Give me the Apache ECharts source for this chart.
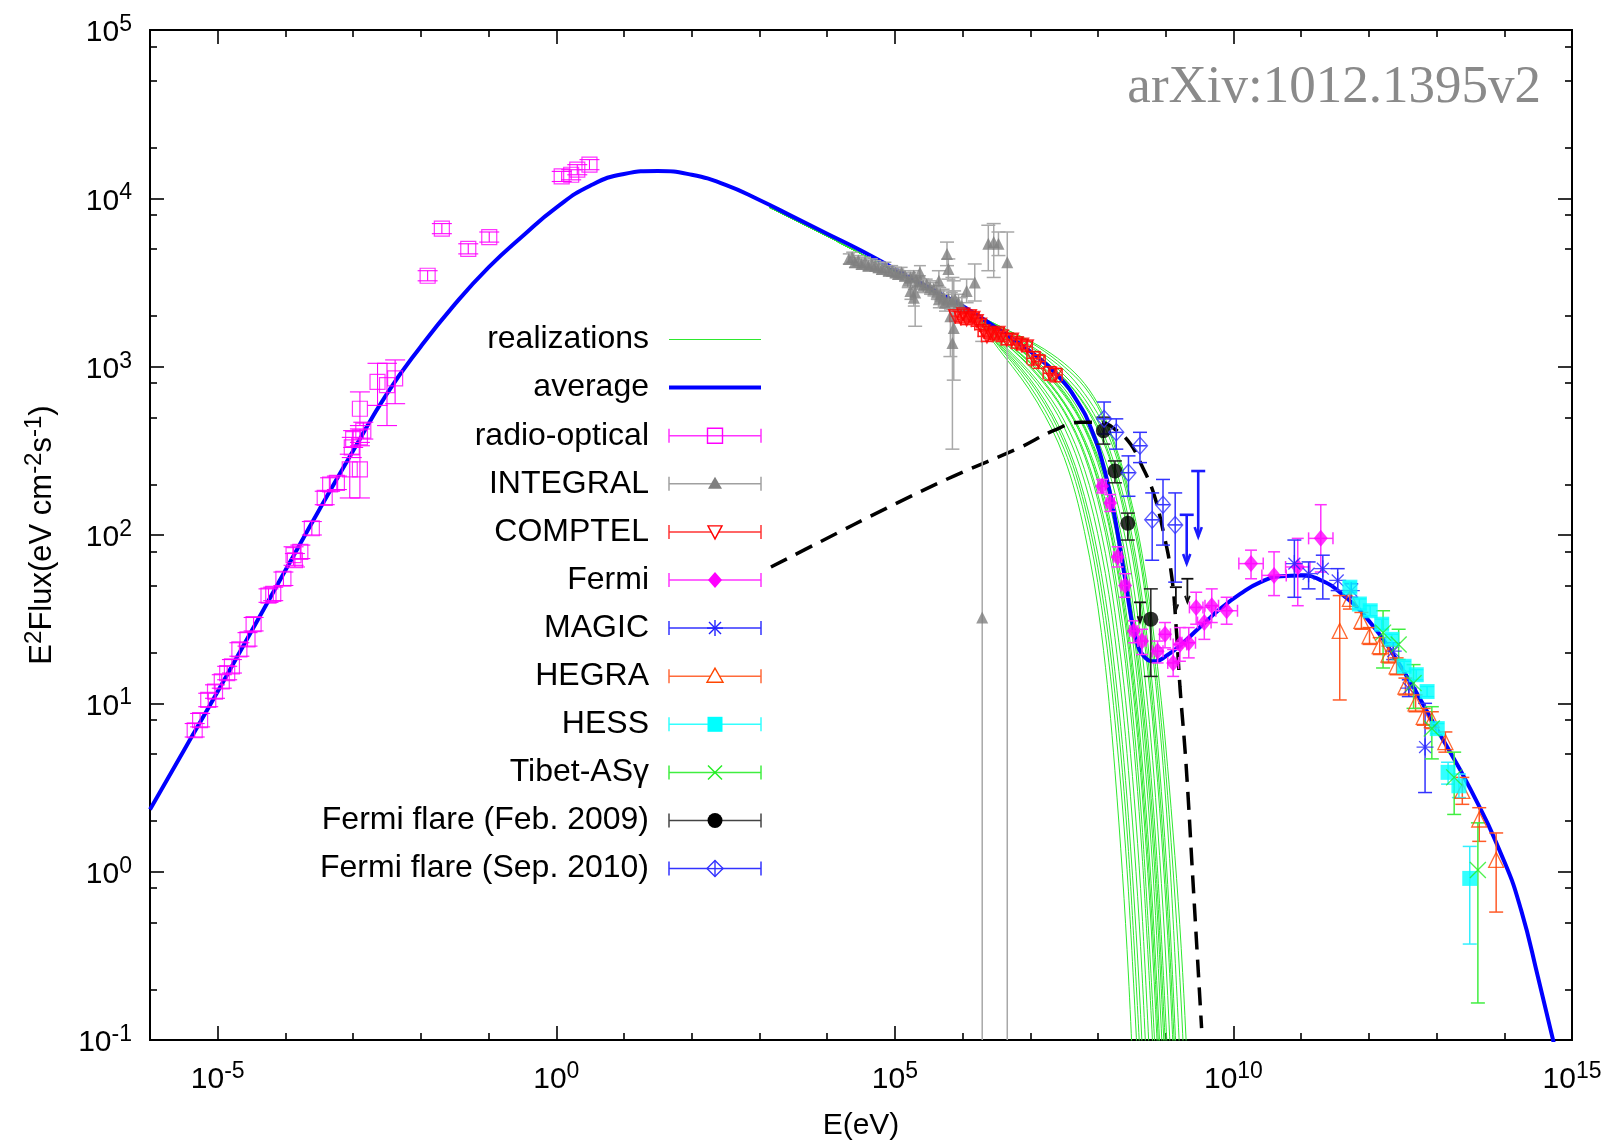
<!DOCTYPE html>
<html>
<head>
<meta charset="utf-8">
<title>SED</title>
<script src="https://cdn.jsdelivr.net/npm/echarts@6/dist/echarts.min.js"></script>
<style>
  html, body { margin: 0; padding: 0; background: #fff; }
  #main { width: 1608px; height: 1140px; }
</style>
</head>
<body>
<div id="main"></div>
<script>
// all values are log10: x = log10(E / eV), y = log10(E^2 Flux)

// average model curve
const avgE = [-6, -5.5, -5, -4.5, -4, -3.5, -3, -2.5, -2, -1.5, -1, -0.5, 0, 0.5, 1, 1.5, 2, 2.5, 3, 3.5, 4, 4.5, 5, 5.5, 6, 6.5, 7, 7.4, 7.7, 7.9, 8.1, 8.25, 8.4, 8.55, 8.7, 8.85, 9.0, 9.2, 9.5, 9.8, 10.1, 10.4, 10.7, 11.0, 11.3, 11.6, 12.0, 12.5, 13.0, 13.5, 14.0, 14.25, 14.5, 14.75];
const avgF = [0.37, 0.72, 1.07, 1.43, 1.79, 2.15, 2.50, 2.84, 3.12, 3.37, 3.59, 3.775, 3.945, 4.075, 4.145, 4.163, 4.14, 4.08, 3.99, 3.89, 3.79, 3.69, 3.58, 3.47, 3.36, 3.23, 3.09, 2.95, 2.79, 2.63, 2.38, 2.10, 1.74, 1.40, 1.27, 1.25, 1.28, 1.34, 1.45, 1.56, 1.65, 1.72, 1.755, 1.76, 1.73, 1.65, 1.49, 1.20, 0.85, 0.49, 0.06, -0.23, -0.63, -1.05];

// realizations (shared x grid, common head then individual tails)
const realE = [3.15, 4.0, 5.0, 6.0, 6.6, 7.1, 7.5, 7.8, 8.05, 8.25, 8.45, 8.65, 8.85, 9.05, 9.25, 9.45];
const realHead = [3.945, 3.775, 3.565, 3.35];
const realTails = [
  [3.07, 2.79, 2.46, 2.02, 1.42, 0.60, -0.62, -2.50],
  [3.09, 2.82, 2.51, 2.12, 1.58, 0.90, -0.12, -1.69],
  [3.10, 2.85, 2.55, 2.18, 1.68, 1.06, 0.12, -1.33],
  [3.11, 2.87, 2.58, 2.23, 1.77, 1.19, 0.32, -1.02, -3.11],
  [3.12, 2.90, 2.64, 2.32, 1.90, 1.39, 0.60, -0.60, -2.46],
  [3.13, 2.92, 2.68, 2.39, 2.01, 1.54, 0.84, -0.24, -1.90],
  [3.15, 2.95, 2.73, 2.47, 2.12, 1.70, 1.08, 0.11, -1.37],
  [3.15, 2.96, 2.74, 2.49, 2.16, 1.77, 1.18, 0.28, -1.12],
  [3.16, 2.98, 2.78, 2.55, 2.24, 1.87, 1.32, 0.48, -0.82, -2.84],
  [3.16, 2.98, 2.78, 2.55, 2.26, 1.90, 1.38, 0.57, -0.67, -2.60],
  [3.16, 2.99, 2.79, 2.57, 2.29, 1.95, 1.44, 0.67, -0.52, -2.37],
  [3.18, 3.01, 2.83, 2.63, 2.36, 2.04, 1.57, 0.85, -0.26, -1.99],
  [3.18, 3.02, 2.84, 2.64, 2.39, 2.09, 1.65, 0.97, -0.07, -1.68],
  [3.18, 3.02, 2.85, 2.65, 2.41, 2.12, 1.70, 1.05, 0.06, -1.50],
  [3.19, 3.03, 2.87, 2.68, 2.45, 2.17, 1.77, 1.15, 0.20, -1.28],
  [3.19, 3.05, 2.89, 2.72, 2.51, 2.25, 1.88, 1.31, 0.44, -0.91, -3.02],
  [3.20, 3.07, 2.93, 2.78, 2.60, 2.37, 2.05, 1.56, 0.79, -0.39, -2.20],
  [3.21, 3.07, 2.93, 2.77, 2.58, 2.35, 2.00, 1.49, 0.69, -0.54, -2.46],
  [3.21, 3.09, 2.95, 2.81, 2.63, 2.41, 2.10, 1.63, 0.90, -0.22, -1.98],
  [3.22, 3.10, 2.98, 2.84, 2.68, 2.49, 2.20, 1.78, 1.13, 0.13, -1.45],
  [3.23, 3.12, 3.00, 2.88, 2.72, 2.52, 2.24, 1.83, 1.22, 0.34, -0.96, -3.16],
  [3.23, 3.13, 3.02, 2.90, 2.74, 2.54, 2.27, 1.89, 1.32, 0.52, -0.60, -2.37]
];

// dashed model
const dashE = [3.17, 3.90, 4.88, 5.87, 6.85, 7.34, 7.74, 8.03, 8.28, 8.48, 8.65, 8.82, 8.97, 9.09, 9.16, 9.21, 9.30, 9.40, 9.53];
const dashF = [1.81, 1.96, 2.16, 2.35, 2.52, 2.62, 2.67, 2.67, 2.62, 2.54, 2.41, 2.25, 2.01, 1.75, 1.42, 1.10, 0.64, -0.04, -0.93];

// radio-optical
const radioE = [-5.34, -5.26, -5.14, -5.04, -4.94, -4.86, -4.79, -4.68, -4.56, -4.47, -4.25, -4.18, -4.03, -3.88, -3.86, -3.78, -3.61, -3.42, -3.34, -3.24, -3.05, -2.90, -3.02, -3.00, -2.90, -2.85, -2.90, -2.64, -2.50, -2.38, -1.90, -1.69, -1.30, -0.99, 0.08, 0.22, 0.31, 0.49];
const radioF = [0.84, 0.90, 1.02, 1.07, 1.13, 1.18, 1.22, 1.32, 1.38, 1.47, 1.64, 1.65, 1.74, 1.88, 1.85, 1.90, 2.04, 2.22, 2.30, 2.31, 2.39, 2.39, 2.52, 2.57, 2.58, 2.62, 2.75, 2.91, 2.89, 2.93, 3.54, 3.82, 3.70, 3.77, 4.13, 4.14, 4.17, 4.20];
const radioLo = [0.80, 0.86, 0.98, 1.03, 1.09, 1.14, 1.18, 1.28, 1.34, 1.43, 1.60, 1.61, 1.70, 1.82, 1.81, 1.86, 2.00, 2.18, 2.26, 2.27, 2.22, 2.22, 2.46, 2.52, 2.53, 2.57, 2.65, 2.77, 2.65, 2.78, 3.51, 3.79, 3.67, 3.74, 4.10, 4.11, 4.14, 4.17];
const radioHi = [0.88, 0.94, 1.06, 1.11, 1.17, 1.22, 1.26, 1.36, 1.42, 1.51, 1.68, 1.69, 1.78, 1.93, 1.89, 1.94, 2.08, 2.26, 2.34, 2.35, 2.48, 2.55, 2.58, 2.62, 2.63, 2.67, 2.85, 3.02, 3.02, 3.04, 3.57, 3.85, 3.73, 3.80, 4.16, 4.17, 4.20, 4.23];

// INTEGRAL: dense band + scattered points
const integralE = [4.32, 4.37, 4.41, 4.46, 4.51, 4.56, 4.61, 4.66, 4.71, 4.76, 4.81, 4.86, 4.91, 4.96, 5.01, 5.05, 5.10, 5.15, 5.19, 5.23, 5.28, 5.33, 5.37, 5.42, 5.47, 5.52, 5.57, 5.62, 5.65, 5.67, 5.72, 5.74, 5.79, 5.84, 5.89, 5.94, 5.99, 5.37, 5.23, 5.28];
const integralF = [3.64, 3.65, 3.62, 3.63, 3.61, 3.62, 3.60, 3.61, 3.60, 3.59, 3.58, 3.59, 3.57, 3.57, 3.56, 3.55, 3.56, 3.54, 3.51, 3.53, 3.54, 3.50, 3.51, 3.48, 3.49, 3.47, 3.46, 3.44, 3.40, 3.43, 3.41, 3.38, 3.40, 3.39, 3.40, 3.38, 3.36, 3.56, 3.45, 3.41];
const integralErr = [0.03, 0.03, 0.03, 0.03, 0.03, 0.03, 0.03, 0.03, 0.03, 0.03, 0.03, 0.03, 0.03, 0.03, 0.03, 0.03, 0.03, 0.03, 0.04, 0.03, 0.03, 0.04, 0.03, 0.04, 0.03, 0.04, 0.04, 0.04, 0.05, 0.04, 0.05, 0.05, 0.05, 0.05, 0.05, 0.05, 0.05, 0.04, 0.05, 0.05];
const integralOutE = [5.77, 5.79, 6.18, 6.06, 6.38, 6.46, 6.53, 6.66, 6.29, 5.85, 5.82, 5.87, 5.30, 5.65];
const integralOutF = [3.67, 3.58, 3.50, 3.45, 3.73, 3.74, 3.73, 3.62, 1.51, 3.14, 3.30, 3.23, 3.44, 3.51];
const integralOutLo = [3.60, 3.52, 3.39, 3.38, 3.57, 3.53, 3.66, -2, -2, 2.51, 3.06, 2.92, 3.24, 3.40];
const integralOutHi = [3.74, 3.64, 3.61, 3.52, 3.84, 3.85, 3.80, 3.80, 3.15, 3.53, 3.40, 3.51, 3.53, 3.57];

// COMPTEL
const comptelE = [5.89, 5.97, 6.01, 6.06, 6.11, 6.16, 6.21, 6.26, 6.31, 6.36, 6.41, 6.46, 6.53, 6.58, 6.65, 6.73, 6.80, 6.88, 6.95, 7.05, 7.12, 7.29, 7.37];
const comptelF = [3.30, 3.29, 3.31, 3.28, 3.30, 3.29, 3.27, 3.25, 3.21, 3.18, 3.20, 3.19, 3.20, 3.18, 3.16, 3.16, 3.14, 3.13, 3.12, 3.05, 3.03, 2.96, 2.95];
const comptelErr = [0.03, 0.03, 0.03, 0.03, 0.03, 0.03, 0.03, 0.03, 0.03, 0.03, 0.03, 0.03, 0.03, 0.03, 0.03, 0.03, 0.03, 0.03, 0.03, 0.04, 0.04, 0.04, 0.04];
const comptelDE = [0.08, 0.08, 0.08, 0.08, 0.08, 0.08, 0.08, 0.08, 0.08, 0.08, 0.08, 0.08, 0.08, 0.08, 0.08, 0.08, 0.08, 0.08, 0.08, 0.1, 0.1, 0.1, 0.1];

// Fermi
const fermiE = [8.06, 8.18, 8.29, 8.40, 8.53, 8.65, 8.88, 8.99, 9.11, 9.21, 9.34, 9.45, 9.57, 9.68, 9.90, 10.26, 10.60, 10.95, 11.29];
const fermiF = [2.29, 2.19, 1.87, 1.70, 1.43, 1.37, 1.31, 1.41, 1.24, 1.35, 1.36, 1.57, 1.48, 1.58, 1.55, 1.83, 1.76, 1.81, 1.98];
const fermiLo = [2.25, 2.14, 1.81, 1.63, 1.36, 1.29, 1.24, 1.33, 1.16, 1.25, 1.27, 1.47, 1.38, 1.48, 1.47, 1.74, 1.64, 1.58, 1.78];
const fermiHi = [2.33, 2.24, 1.93, 1.77, 1.49, 1.44, 1.37, 1.48, 1.32, 1.45, 1.45, 1.66, 1.57, 1.68, 1.63, 1.91, 1.90, 1.98, 2.18];
const fermiDE = [0.06, 0.06, 0.06, 0.06, 0.06, 0.06, 0.08, 0.08, 0.08, 0.1, 0.1, 0.1, 0.1, 0.1, 0.16, 0.18, 0.18, 0.18, 0.18];

// MAGIC
const magicE = [10.90, 11.11, 11.32, 11.54, 11.74, 12.36, 12.59, 12.83];
const magicF = [1.83, 1.77, 1.80, 1.73, 1.67, 1.31, 1.09, 0.74];
const magicLo = [1.63, 1.68, 1.62, 1.67, 1.63, 1.26, 1.04, 0.47];
const magicHi = [1.97, 1.84, 1.88, 1.80, 1.71, 1.36, 1.14, 1.00];

// HEGRA
const hegraE = [11.57, 11.72, 11.89, 12.01, 12.16, 12.29, 12.41, 12.54, 12.69, 12.81, 12.93, 13.13, 13.38, 13.63, 13.88];
const hegraF = [1.43, 1.62, 1.49, 1.40, 1.34, 1.29, 1.22, 1.10, 1.00, 0.92, 0.90, 0.77, 0.48, 0.31, 0.07];
const hegraLo = [1.02, 1.56, 1.44, 1.35, 1.29, 1.24, 1.17, 1.05, 0.95, 0.87, 0.85, 0.71, 0.40, 0.18, -0.24];
const hegraHi = [1.64, 1.67, 1.54, 1.45, 1.39, 1.34, 1.27, 1.15, 1.05, 0.97, 0.95, 0.83, 0.56, 0.38, 0.23];

// HESS
const hessE = [11.72, 11.86, 12.02, 12.19, 12.34, 12.52, 12.70, 12.86, 13.01, 13.17, 13.33, 13.49];
const hessF = [1.69, 1.59, 1.55, 1.47, 1.38, 1.22, 1.17, 1.07, 0.85, 0.59, 0.51, -0.04];
const hessLo = [1.66, 1.56, 1.52, 1.44, 1.35, 1.19, 1.14, 1.04, 0.82, 0.52, 0.44, -0.43];
const hessHi = [1.72, 1.62, 1.58, 1.50, 1.41, 1.25, 1.20, 1.10, 0.88, 0.65, 0.58, 0.15];

// Tibet-ASgamma
const tibetE = [12.21, 12.44, 12.66, 12.93, 13.26, 13.61];
const tibetF = [1.42, 1.35, 1.12, 0.85, 0.56, 0.01];
const tibetLo = [1.21, 1.26, 0.97, 0.67, 0.34, -0.78];
const tibetHi = [1.55, 1.44, 1.23, 0.98, 0.71, 0.29];

// Fermi flare Feb. 2009
const febE = [8.08, 8.25, 8.44, 8.78];
const febF = [2.62, 2.38, 2.07, 1.50];
const febLo = [2.54, 2.31, 1.97, 1.16];
const febHi = [2.70, 2.44, 2.13, 1.68];
const febUlE = [8.62, 9.15, 9.32];
const febUlTop = [1.60, 1.69, 1.74];
const febUlTip = [1.48, 1.55, 1.60];

// Fermi flare Sep. 2010
const sepE = [8.09, 8.27, 8.45, 8.62, 8.80, 8.96, 9.14];
const sepF = [2.69, 2.61, 2.37, 2.53, 2.09, 2.18, 2.06];
const sepLo = [2.60, 2.51, 2.23, 2.43, 1.85, 1.94, 1.72];
const sepHi = [2.79, 2.69, 2.47, 2.61, 2.25, 2.33, 2.25];
const sepUlE = [9.31, 9.48];
const sepUlTop = [2.12, 2.38];
const sepUlTip = [1.83, 1.99];

// ticks
const xMajor = [-5, 0, 5, 10, 15];
const xMinor = [-4, -3, -2, -1, 1, 2, 3, 4, 6, 7, 8, 9, 11, 12, 13, 14];
const yMajor = [-1, 0, 1, 2, 3, 4, 5];
const yMinorSteps = [0.30103, 0.69897, 0.90309];

const FONT = 'Liberation Sans, Arial, Helvetica, sans-serif';
const GREEN = '#2ee82e';

const yMinor = [];
for (let d = -1; d < 5; d++) yMinorSteps.forEach(s => yMinor.push(d + s));

const chart = echarts.init(document.getElementById('main'), null, { renderer: 'canvas' });

const powRich = {
  b: { fontSize: 30, fontFamily: FONT, color: '#000', lineHeight: 40, verticalAlign: 'middle' },
  s: { fontSize: 23, fontFamily: FONT, color: '#000', lineHeight: 10, verticalAlign: 'top' }
};
const powFmt = v => '{b|10}{s|' + Math.round(v) + '}';

function xAxisDef(pos, ticks, len, withLabel) {
  return {
    type: 'value', position: pos, min: -6, max: 15, interval: 1,
    axisLine: { show: true, onZero: false, lineStyle: { color: '#000', width: 2 } },
    axisTick: { show: true, inside: true, length: len, customValues: ticks, lineStyle: { color: '#000', width: 1.6 } },
    axisLabel: withLabel ? { show: true, customValues: xMajor, margin: 20, formatter: powFmt, rich: powRich } : { show: false },
    splitLine: { show: false }
  };
}
function yAxisDef(pos, ticks, len, withLabel) {
  return {
    type: 'value', position: pos, min: -1, max: 5, interval: 1,
    axisLine: { show: true, onZero: false, lineStyle: { color: '#000', width: 2 } },
    axisTick: { show: true, inside: true, length: len, customValues: ticks, lineStyle: { color: '#000', width: 1.6 } },
    axisLabel: withLabel ? { show: true, customValues: yMajor, margin: 18, padding: [6, 0, 0, 0], formatter: powFmt, rich: powRich } : { show: false },
    splitLine: { show: false }
  };
}

const xAxes = [
  xAxisDef('bottom', xMajor, 14, true),
  xAxisDef('bottom', xMinor, 7, false),
  xAxisDef('top', xMajor, 14, false),
  xAxisDef('top', xMinor, 7, false)
];
xAxes[0].name = 'E(eV)';
xAxes[0].nameLocation = 'middle';
xAxes[0].nameGap = 71;
xAxes[0].nameTextStyle = { fontSize: 30, fontFamily: FONT, color: '#000' };

const yAxes = [
  yAxisDef('left', yMajor, 14, true),
  yAxisDef('left', yMinor, 7, false),
  yAxisDef('right', yMajor, 14, false),
  yAxisDef('right', yMinor, 7, false)
];
yAxes[0].name = '{b|E}{s|2}{b|Flux(eV cm}{s|-2}{b|s}{s|-1}{b|)}';
yAxes[0].nameLocation = 'middle';
yAxes[0].nameRotate = 90;
yAxes[0].nameGap = 88;
yAxes[0].nameTextStyle = {
  rich: {
    b: { fontSize: 31, fontFamily: FONT, color: '#000', lineHeight: 40, verticalAlign: 'middle' },
    s: { fontSize: 24, fontFamily: FONT, color: '#000', lineHeight: 12, verticalAlign: 'top' }
  }
};

// error bars: [x, y, ylo, yhi, xlo, xhi]
function errBars(opts) {
  return function (params, api) {
    const x = api.value(0), y = api.value(1);
    const ylo = api.value(2), yhi = api.value(3), xlo = api.value(4), xhi = api.value(5);
    const st = { stroke: opts.color, lineWidth: opts.width || 1.5, fill: null };
    const kids = [];
    const cap = opts.cap;
    if (isFinite(ylo) && isFinite(yhi)) {
      const a = api.coord([x, ylo]), b = api.coord([x, yhi]);
      kids.push({ type: 'line', shape: { x1: a[0], y1: a[1], x2: b[0], y2: b[1] }, style: st });
      if (cap) {
        kids.push({ type: 'line', shape: { x1: a[0] - cap, y1: a[1], x2: a[0] + cap, y2: a[1] }, style: st });
        kids.push({ type: 'line', shape: { x1: b[0] - cap, y1: b[1], x2: b[0] + cap, y2: b[1] }, style: st });
      }
    }
    if (isFinite(xlo) && isFinite(xhi)) {
      const a = api.coord([xlo, y]), b = api.coord([xhi, y]);
      kids.push({ type: 'line', shape: { x1: a[0], y1: a[1], x2: b[0], y2: b[1] }, style: st });
      const xcap = opts.xcap === undefined ? cap : opts.xcap;
      if (xcap) {
        kids.push({ type: 'line', shape: { x1: a[0], y1: a[1] - xcap, x2: a[0], y2: a[1] + xcap }, style: st });
        kids.push({ type: 'line', shape: { x1: b[0], y1: b[1] - xcap, x2: b[0], y2: b[1] + xcap }, style: st });
      }
    }
    return { type: 'group', children: kids };
  };
}
// upper limits: [x, top, tip]
function upperLimits(opts) {
  return function (params, api) {
    const x = api.value(0);
    const a = api.coord([x, api.value(1)]), b = api.coord([x, api.value(2)]);
    const st = { stroke: opts.color, lineWidth: opts.width, fill: null };
    const h = opts.head;
    return {
      type: 'group', children: [
        { type: 'line', shape: { x1: a[0] - opts.cap, y1: a[1], x2: a[0] + opts.cap, y2: a[1] }, style: st },
        { type: 'line', shape: { x1: a[0], y1: a[1], x2: b[0], y2: b[1] }, style: st },
        { type: 'polyline', shape: { points: [[b[0] - h * 0.6, b[1] - h * 1.6], [b[0], b[1]], [b[0] + h * 0.6, b[1] - h * 1.6]] }, style: st }
      ]
    };
  };
}

const nanArr = n => new Array(n).fill(NaN);
function rows(E, F, lo, hi, elo, ehi) {
  return E.map((e, i) => [e, F[i], lo[i], hi[i], elo[i], ehi[i]]);
}
function errSeries(data, opts) {
  return {
    type: 'custom', renderItem: errBars(opts), data: data, clip: true, silent: true,
    encode: { x: 0, y: 1 }, xAxisIndex: 0, yAxisIndex: 0, z: 3
  };
}
function markSeries(E, F, sym) {
  return Object.assign({
    type: 'scatter', data: E.map((e, i) => [e, F[i]]), silent: true, z: 4,
    xAxisIndex: 0, yAxisIndex: 0, emphasis: { disabled: true }
  }, sym);
}
function hollow(color, w) {
  return { color: 'rgba(0,0,0,0)', borderColor: color, borderWidth: w || 1.3 };
}

const series = [];
realTails.forEach(tail => {
  const ys = realHead.concat(tail);
  series.push({
    type: 'line', data: ys.map((y, i) => [realE[i], y]), showSymbol: false, smooth: 0.35,
    lineStyle: { color: GREEN, width: 1 }, silent: true, z: 1
  });
});
series.push({
  type: 'line', data: avgE.map((e, i) => [e, avgF[i]]), showSymbol: false, smooth: 0.5,
  lineStyle: { color: '#0000ff', width: 4 }, silent: true, z: 2
});
series.push({
  type: 'line', data: dashE.map((e, i) => [e, dashF[i]]), showSymbol: false, smooth: 0.4,
  lineStyle: { color: '#000', width: 3.5, type: [18, 10] }, silent: true, z: 2
});

// error bars
series.push(errSeries(rows(radioE, radioF, radioLo, radioHi, nanArr(radioE.length), nanArr(radioE.length)), { color: '#ff00ff', width: 1.1, cap: 10 }));
series.push(errSeries(rows(integralE, integralF, integralF.map((f, i) => f - integralErr[i]), integralF.map((f, i) => f + integralErr[i]), nanArr(integralE.length), nanArr(integralE.length)), { color: '#a8a8a8', width: 1.5, cap: 6 }));
series.push(errSeries(rows(integralOutE, integralOutF, integralOutLo, integralOutHi, nanArr(integralOutE.length), nanArr(integralOutE.length)), { color: '#a8a8a8', width: 1.5, cap: 7 }));
series.push(errSeries(rows(comptelE, comptelF, comptelF.map((f, i) => f - comptelErr[i]), comptelF.map((f, i) => f + comptelErr[i]), comptelE.map((e, i) => e - comptelDE[i]), comptelE.map((e, i) => e + comptelDE[i])), { color: '#ff2020', width: 1.5, cap: 6 }));
series.push(errSeries(rows(fermiE, fermiF, fermiLo, fermiHi, fermiE.map((e, i) => e - fermiDE[i]), fermiE.map((e, i) => e + fermiDE[i])), { color: '#ff33ff', width: 1.5, cap: 6 }));
series.push(errSeries(rows(magicE, magicF, magicLo, magicHi, nanArr(magicE.length), nanArr(magicE.length)), { color: '#3333ff', width: 1.5, cap: 7 }));
series.push(errSeries(rows(hegraE, hegraF, hegraLo, hegraHi, nanArr(hegraE.length), nanArr(hegraE.length)), { color: '#ff5a28', width: 1.5, cap: 7 }));
series.push(errSeries(rows(hessE, hessF, hessLo, hessHi, nanArr(hessE.length), nanArr(hessE.length)), { color: '#33f0ff', width: 1.5, cap: 7 }));
series.push(errSeries(rows(tibetE, tibetF, tibetLo, tibetHi, nanArr(tibetE.length), nanArr(tibetE.length)), { color: '#40ee40', width: 1.5, cap: 7 }));
series.push(errSeries(rows(febE, febF, febLo, febHi, nanArr(febE.length), nanArr(febE.length)), { color: '#222', width: 1.5, cap: 7 }));
series.push(errSeries(rows(sepE, sepF, sepLo, sepHi, sepE.map(e => e - 0.1), sepE.map(e => e + 0.1)), { color: '#3333ff', width: 1.5, cap: 7, xcap: 0 }));
series.push({
  type: 'custom', renderItem: upperLimits({ color: '#111', width: 1.8, cap: 6, head: 4 }), clip: true, silent: true,
  data: febUlE.map((e, i) => [e, febUlTop[i], febUlTip[i]]), encode: { x: 0, y: 1 }, z: 3
});
series.push({
  type: 'custom', renderItem: upperLimits({ color: '#1a1aff', width: 2.6, cap: 7, head: 6 }), clip: true, silent: true,
  data: sepUlE.map((e, i) => [e, sepUlTop[i], sepUlTip[i]]), encode: { x: 0, y: 1 }, z: 3
});

// markers
series.push(markSeries(radioE, radioF, { symbol: 'rect', symbolSize: 15, itemStyle: hollow('#ff00ff', 1.2) }));
series.push(markSeries(integralE, integralF, { symbol: 'triangle', symbolSize: 12, itemStyle: { color: '#808080' } }));
series.push(markSeries(integralOutE, integralOutF, { symbol: 'triangle', symbolSize: 12, itemStyle: { color: '#808080' } }));
series.push(markSeries(comptelE, comptelF, { symbol: 'triangle', symbolRotate: 180, symbolSize: 13, itemStyle: hollow('#ff0000', 1.4) }));
series.push(markSeries(fermiE, fermiF, { symbol: 'diamond', symbolSize: [14, 17], itemStyle: { color: '#ff00ff' } }));
series.push(markSeries(magicE, magicF, { symbol: 'path://M0,5L10,5M5,0L5,10M1.5,1.5L8.5,8.5M8.5,1.5L1.5,8.5', symbolSize: 17, itemStyle: hollow('#2222ff', 1.3) }));
series.push(markSeries(hegraE, hegraF, { symbol: 'triangle', symbolSize: 15, itemStyle: hollow('#ff4500', 1.3) }));
series.push(markSeries(hessE, hessF, { symbol: 'rect', symbolSize: 15, itemStyle: { color: '#00ffff' } }));
series.push(markSeries(tibetE, tibetF, { symbol: 'path://M0,0L10,10M10,0L0,10', symbolSize: 16, itemStyle: hollow('#22ee22', 1.3) }));
series.push(markSeries(febE, febF, { symbol: 'circle', symbolSize: 15, itemStyle: { color: '#000' } }));
series.push(markSeries(sepE, sepF, { symbol: 'diamond', symbolSize: [15, 17], itemStyle: hollow('#3333ff', 1.3) }));

// legend drawn as graphics (icons carry error bars like the original key)
const legendRows = [
  { name: 'realizations', color: GREEN, kind: 'line', width: 1.2 },
  { name: 'average', color: '#0000ff', kind: 'line', width: 4 },
  { name: 'radio-optical', color: '#ff33ff', mcolor: '#ff00ff', kind: 'square' },
  { name: 'INTEGRAL', color: '#a0a0a0', mcolor: '#808080', kind: 'tri' },
  { name: 'COMPTEL', color: '#ff3333', mcolor: '#ff0000', kind: 'dtri' },
  { name: 'Fermi', color: '#ff33ff', mcolor: '#ff00ff', kind: 'diamond' },
  { name: 'MAGIC', color: '#3333ff', mcolor: '#2222ff', kind: 'star' },
  { name: 'HEGRA', color: '#ff6a3a', mcolor: '#ff4500', kind: 'otri' },
  { name: 'HESS', color: '#33ffff', mcolor: '#00ffff', kind: 'fsq' },
  { name: 'Tibet-ASγ', color: '#40ee40', mcolor: '#22ee22', kind: 'x' },
  { name: 'Fermi flare (Feb. 2009)', color: '#444', mcolor: '#000', kind: 'circle' },
  { name: 'Fermi flare (Sep. 2010)', color: '#3333ff', mcolor: '#3333ff', kind: 'odiamond' }
];

function legendElements() {
  const els = [];
  const x0 = 669, x1 = 761, xm = 715;
  legendRows.forEach((r, i) => {
    const y = 339.5 + i * 48.1;
    els.push({
      type: 'text', x: 649, y: y, z: 100,
      style: { text: r.name, fontSize: 32, fontFamily: FONT, fill: '#000', align: 'right', verticalAlign: 'middle' }
    });
    const st = { stroke: r.color, lineWidth: r.width || 1.5, fill: null };
    els.push({ type: 'line', z: 100, shape: { x1: x0, y1: y, x2: x1, y2: y }, style: st });
    if (r.kind === 'line') return;
    els.push({ type: 'line', z: 100, shape: { x1: x0, y1: y - 7, x2: x0, y2: y + 7 }, style: st });
    els.push({ type: 'line', z: 100, shape: { x1: x1, y1: y - 7, x2: x1, y2: y + 7 }, style: st });
    const mc = r.mcolor;
    const stroke = { stroke: mc, lineWidth: 1.4, fill: null };
    const fill = { fill: mc, stroke: null };
    switch (r.kind) {
      case 'square':
        els.push({ type: 'rect', z: 101, shape: { x: xm - 7.5, y: y - 7.5, width: 15, height: 15 }, style: stroke }); break;
      case 'tri':
        els.push({ type: 'polygon', z: 101, shape: { points: [[xm, y - 7], [xm - 7, y + 5], [xm + 7, y + 5]] }, style: fill }); break;
      case 'dtri':
        els.push({ type: 'polygon', z: 101, shape: { points: [[xm - 7, y - 6], [xm + 7, y - 6], [xm, y + 7]] }, style: { stroke: mc, lineWidth: 1.4, fill: '#fff' } }); break;
      case 'diamond':
        els.push({ type: 'polygon', z: 101, shape: { points: [[xm, y - 8], [xm + 7, y], [xm, y + 8], [xm - 7, y]] }, style: fill }); break;
      case 'star':
        [[-8, 0, 8, 0], [0, -8, 0, 8], [-6, -6, 6, 6], [-6, 6, 6, -6]].forEach(s => {
          els.push({ type: 'line', z: 101, shape: { x1: xm + s[0], y1: y + s[1], x2: xm + s[2], y2: y + s[3] }, style: stroke });
        }); break;
      case 'otri':
        els.push({ type: 'polygon', z: 101, shape: { points: [[xm, y - 8], [xm - 8, y + 6], [xm + 8, y + 6]] }, style: { stroke: mc, lineWidth: 1.4, fill: '#fff' } }); break;
      case 'fsq':
        els.push({ type: 'rect', z: 101, shape: { x: xm - 7.5, y: y - 7.5, width: 15, height: 15 }, style: fill }); break;
      case 'x':
        [[-7, -7, 7, 7], [-7, 7, 7, -7]].forEach(s => {
          els.push({ type: 'line', z: 101, shape: { x1: xm + s[0], y1: y + s[1], x2: xm + s[2], y2: y + s[3] }, style: stroke });
        }); break;
      case 'circle':
        els.push({ type: 'circle', z: 101, shape: { cx: xm, cy: y, r: 7.5 }, style: fill }); break;
      case 'odiamond':
        els.push({ type: 'polygon', z: 101, shape: { points: [[xm, y - 8], [xm + 8, y], [xm, y + 8], [xm - 8, y]] }, style: { stroke: mc, lineWidth: 1.4, fill: '#fff' } });
        els.push({ type: 'line', z: 101, shape: { x1: xm - 8, y1: y, x2: xm + 8, y2: y }, style: stroke });
        els.push({ type: 'line', z: 101, shape: { x1: xm, y1: y - 8, x2: xm, y2: y + 8 }, style: stroke });
        break;
    }
  });
  els.push({
    type: 'text', x: 1541, y: 88, z: 100,
    style: { text: 'arXiv:1012.1395v2', fontSize: 53, fontFamily: 'Liberation Serif, Times New Roman, serif', fill: '#8a8a8a', align: 'right', verticalAlign: 'middle' }
  });
  return els;
}

const option = {
  backgroundColor: '#fff',
  animation: false,
  grid: { left: 150, top: 30, width: 1422, height: 1010, containLabel: false, outerBoundsMode: 'none' },
  xAxis: xAxes,
  yAxis: yAxes,
  series: series,
  graphic: { elements: legendElements() }
};

option && chart.setOption(option);
</script>
</body>
</html>
